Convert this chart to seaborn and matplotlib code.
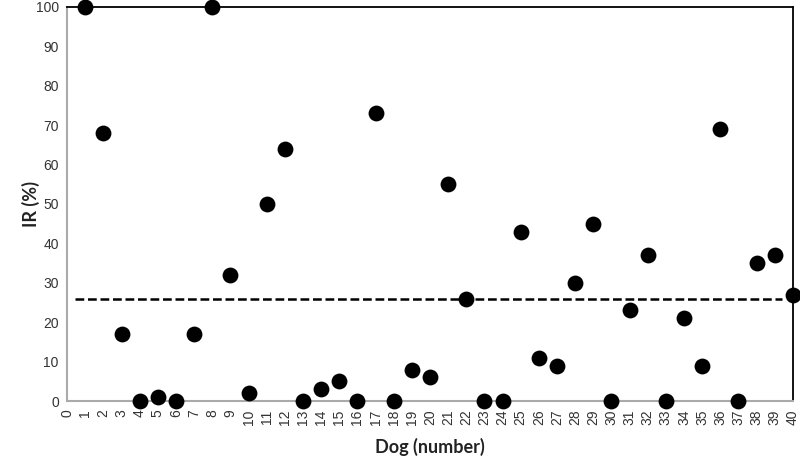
import numpy as np
import pandas as pd
import matplotlib
matplotlib.use("Agg")
import matplotlib.pyplot as plt
import seaborn as sns

# datos
dog = list(range(1, 41))
ir = [100, 68, 17, 0, 1, 0, 17, 100, 32, 2,
      50, 64, 0, 3, 5, 0, 73, 0, 8, 6,
      55, 26, 0, 0, 43, 11, 9, 30, 45, 0,
      23, 37, 0, 21, 9, 69, 0, 35, 37, 27]
mean_ir = 26
x_ticks = list(range(0, 41))
y_ticks = list(range(0, 101, 10))

df = pd.DataFrame({"dog": dog, "ir": ir})

sns.set_style("white")
plt.rcParams["font.family"] = ["Liberation Sans", "DejaVu Sans"]

fig, ax = plt.subplots(figsize=(8, 4.61), dpi=100)
fig.subplots_adjust(left=0.084, right=0.991, top=0.985, bottom=0.13)

sns.scatterplot(data=df, x="dog", y="ir", color="black", s=130,
                edgecolor="black", linewidth=0, ax=ax, zorder=3, clip_on=False)
ax.hlines(mean_ir, 0.45, 39.4, colors="black", linestyles=(0, (3.5, 1.5)),
          linewidth=1.8, zorder=2)

ax.set_xlim(0, 40)
ax.set_ylim(0, 100)
ax.set_xticks(x_ticks)
ax.set_xticklabels([str(t) for t in x_ticks], rotation=90, fontsize=10, color="#333333")
ax.set_yticks(y_ticks)
ax.set_yticklabels([str(t) for t in y_ticks], fontsize=10, color="#333333")
ax.tick_params(axis="both", length=4, color="#aaaaaa", width=1, pad=2)
ax.tick_params(axis="x", direction="out")
ax.tick_params(axis="y", direction="out")

for side in ["left", "bottom"]:
    ax.spines[side].set_color("#aaaaaa")
    ax.spines[side].set_linewidth(1.5)
for side in ["top", "right"]:
    ax.spines[side].set_color("black")
    ax.spines[side].set_linewidth(1.3)

ax.set_xlabel("Dog (number)", fontsize=13, fontweight="bold", family="Lato",
              color="#222222", labelpad=9)
ax.set_ylabel("IR (%)", fontsize=13, fontweight="bold", family="Lato",
              color="#222222", labelpad=-3)

fig.savefig("out.png", dpi=100)
plt.close()
